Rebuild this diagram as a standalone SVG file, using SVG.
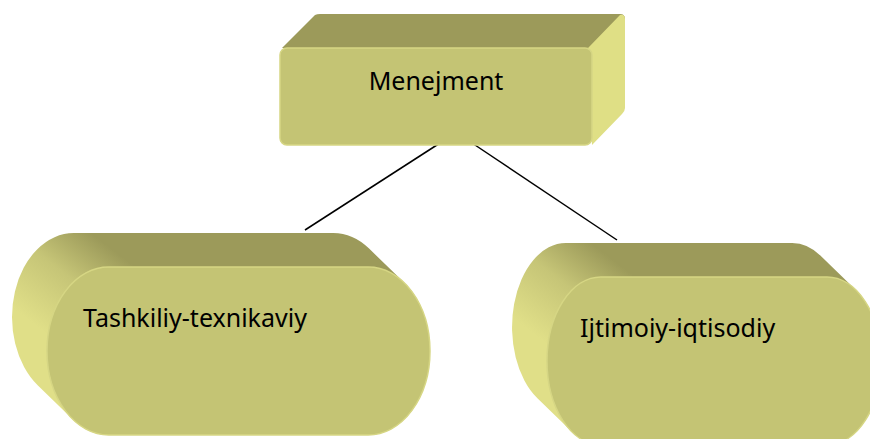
<svg xmlns="http://www.w3.org/2000/svg" width="870" height="439" viewBox="0 0 870 439">
  <defs>
    <linearGradient id="gL" gradientUnits="userSpaceOnUse" x1="100" y1="240" x2="35" y2="325">
      <stop offset="0" stop-color="#9c9a5a"/>
      <stop offset="0.45" stop-color="#c6c577"/>
      <stop offset="1" stop-color="#e0df88"/>
    </linearGradient>
    <linearGradient id="gR" gradientUnits="userSpaceOnUse" x1="600" y1="250" x2="535" y2="335">
      <stop offset="0" stop-color="#9c9a5a"/>
      <stop offset="0.45" stop-color="#c6c577"/>
      <stop offset="1" stop-color="#e0df88"/>
    </linearGradient>
    <linearGradient id="gRim" x1="0" y1="0" x2="1" y2="1">
      <stop offset="0" stop-color="#9c9a5a"/>
      <stop offset="1" stop-color="#c8c878"/>
    </linearGradient>
  </defs>
  <style>
    .front { fill: #c4c474; stroke: #d6d684; stroke-width: 1.5; }
    .top { fill: #9c9a5a; }
    .side { fill: #dfdf85; }
    .lbl { font-family: "Noto Sans", "Open Sans", sans-serif; font-size: 25px; fill: #000; }
    .conn line { stroke: #000; stroke-width: 1.5; }
  </style>

  <g id="connectors" class="conn">
    <line x1="440" y1="143" x2="305" y2="230"/>
    <line x1="472" y1="143" x2="617" y2="240"/>
  </g>

  <g id="node-menejment">
    <path class="top" d="M282 48 L315 15 Q317 14 320 14 L620 14 Q625 14 625 19 L592 52 Z"/>
    <path class="side" d="M588 48 L620 15 Q625 14 625 19 L625 108 Q625 111 622 114 L592 145 Z"/>
    <rect class="front" x="280" y="48" width="312" height="97" rx="7" ry="7"/>
    <text class="lbl" x="436" y="90" text-anchor="middle">Menejment</text>
  </g>

  <g id="node-tashkiliy">
    <path fill="url(#gL)" d="M404.1 282.6 A61.7 84 0 0 1 368.3 435 H108.7 A61.7 84 0 0 1 72.9 419.4 L37.9 385.4 A61.7 84 0 0 1 73.7 233 H333.3 A61.7 84 0 0 1 369.1 248.6 Z"/>
    <path class="front" d="M108.7 267 H368.3 A61.7 84 0 0 1 368.3 435 H108.7 A61.7 84 0 0 1 108.7 267 Z"/>
    <text class="lbl" x="83" y="327">Tashkiliy-texnikaviy</text>
  </g>

  <g id="node-ijtimoiy">
    <path fill="url(#gR)" d="M855.6 289.7 A53.8 84 0 0 1 827.2 445 H600.8 A53.8 84 0 0 1 572.4 432.3 L537.4 398.3 A53.8 84 0 0 1 565.8 243 H792.2 A53.8 84 0 0 1 820.6 255.7 Z"/>
    <path class="front" d="M600.8 277 H827.2 A53.8 84 0 0 1 827.2 445 H600.8 A53.8 84 0 0 1 600.8 277 Z"/>
    <text class="lbl" x="580" y="337">Ijtimoiy-iqtisodiy</text>
  </g>
</svg>
